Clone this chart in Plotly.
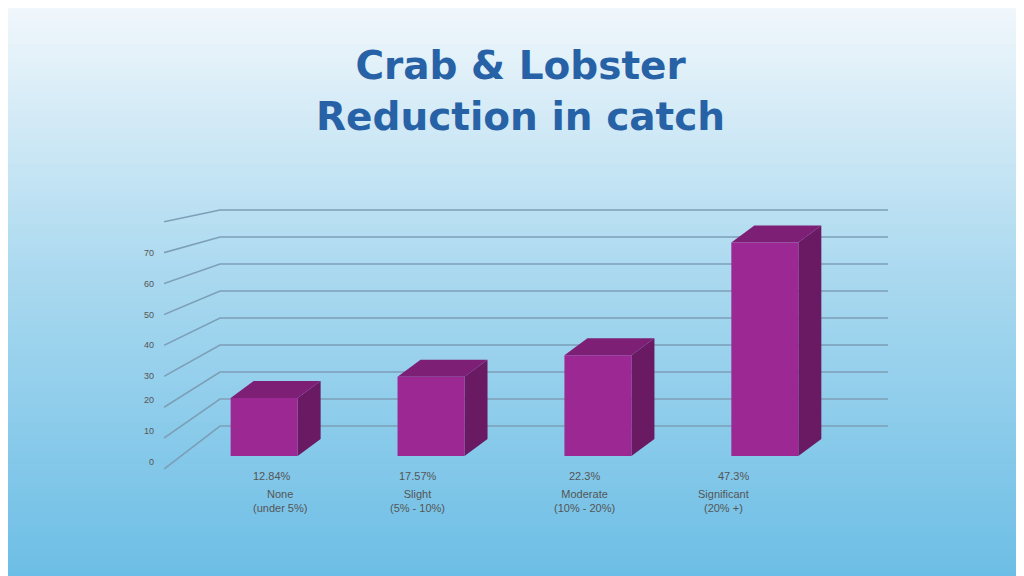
import plotly.graph_objects as go

categories = ["None<br>(under 5%)", "Slight<br>(5% - 10%)", "Moderate<br>(10% - 20%)", "Significant<br>(20% +)"]
values = [19, 26, 33, 70]
pct_labels = ["12.84%", "17.57%", "22.3%", "47.3%"]
tick_vals = [0, 10, 20, 30, 40, 50, 60, 70]
grid_vals = [0, 10, 20, 30, 40, 50, 60, 70, 80]

W, H = 1024, 576
ML, MR, MT, MB = 156, 142, 180, 106
XR = [-0.6, 3.75]
PX_X = (W - ML - MR) / (XR[1] - XR[0])
BASE_PX = 448
PX_Y = 3.05
YR = [-(H - MB - BASE_PX) / PX_Y, (BASE_PX - MT) / PX_Y]

def px2x(p):
    return XR[0] + (p - ML) / PX_X

def py2y(p):
    return (BASE_PX - p) / PX_Y

def x2paper(x):
    return (ML + (x - XR[0]) * PX_X) / W

def pyp(p):
    return 1 - p / H

fig = go.Figure()

# background gradient
n = 96
def lerp(a, b, t):
    return tuple(int(a[i] + (b[i] - a[i]) * t) for i in range(3))
top_c, mid_c, bot_c = (240, 247, 252), (172, 218, 240), (108, 190, 230)
shapes = []
for i in range(n):
    t = i / (n - 1)
    c = lerp(top_c, mid_c, t / 0.45) if t < 0.45 else lerp(mid_c, bot_c, (t - 0.45) / 0.55)
    shapes.append(dict(type="rect", xref="paper", yref="paper", x0=-0.01, x1=1.01,
                       y0=1 - (i + 1) / n - 0.002, y1=1 - i / n,
                       fillcolor="rgb(%d,%d,%d)" % c, line=dict(width=0), layer="below"))

grid_color = "#7d9fb8"
back_x0 = px2x(212)
back_x1 = px2x(880)
front_x = px2x(156)
for v in grid_vals:
    by = py2y(418 - 2.7 * v)
    fy = py2y(461 - 3.09 * v)
    fig.add_trace(go.Scatter(x=[front_x, back_x0, back_x1], y=[fy, by, by], mode="lines", cliponaxis=False,
                             line=dict(color=grid_color, width=1.6), hoverinfo="skip", showlegend=False))
for v in tick_vals:
    fig.add_annotation(xref="paper", yref="paper", x=148 / W, y=pyp(461 - 3.09 * v), text=str(v),
                       showarrow=False, xanchor="right", font=dict(size=9, color="#555"))

bw = px2x(290) - px2x(223)
dx = 23 / PX_X
dy = 17 / PX_Y
for i, v in enumerate(values):
    x0, x1 = i - bw / 2, i + bw / 2
    fig.add_trace(go.Scatter(x=[x1, x1 + dx, x1 + dx, x1, x1], y=[0, dy, v + dy, v, 0], fill="toself",
                             fillcolor="#6a1a63", line=dict(width=0), mode="lines", hoverinfo="skip", showlegend=False))
    fig.add_trace(go.Scatter(x=[x0, x0 + dx, x1 + dx, x1, x0], y=[v, v + dy, v + dy, v, v], fill="toself",
                             fillcolor="#7e1f76", line=dict(width=0), mode="lines", hoverinfo="skip", showlegend=False))
    fig.add_trace(go.Scatter(x=[x0, x1, x1, x0, x0], y=[0, 0, v, v, 0], fill="toself",
                             fillcolor="#9c2894", line=dict(width=0), mode="lines", hoverinfo="skip", showlegend=False))

for i in range(len(values)):
    cx = x2paper(i - bw / 2 + bw * 0.3)
    fig.add_annotation(xref="paper", yref="paper", x=cx, y=pyp(476), text=pct_labels[i], showarrow=False,
                       font=dict(size=11, color="#555"))
    fig.add_annotation(xref="paper", yref="paper", x=cx, y=pyp(508), text=categories[i], showarrow=False,
                       font=dict(size=11, color="#555"))

fig.add_annotation(xref="paper", yref="paper", x=0.5, y=pyp(83),
                   text="<b>Crab & Lobster<br>Reduction in catch</b>", showarrow=False,
                   font=dict(size=39, color="#2762a6", family="DejaVu Sans"), yanchor="middle")

fig.update_layout(width=W, height=H, margin=dict(l=0, r=0, t=0, b=0), shapes=shapes,
                  paper_bgcolor="#a8d8f0", plot_bgcolor="rgba(0,0,0,0)",
                  xaxis=dict(range=XR, visible=False, fixedrange=True, domain=[ML / W, 1 - MR / W]),
                  yaxis=dict(range=YR, visible=False, fixedrange=True, domain=[MB / H, 1 - MT / H]),
                  font=dict(family="Liberation Sans"))
fig.write_html("out.html")
